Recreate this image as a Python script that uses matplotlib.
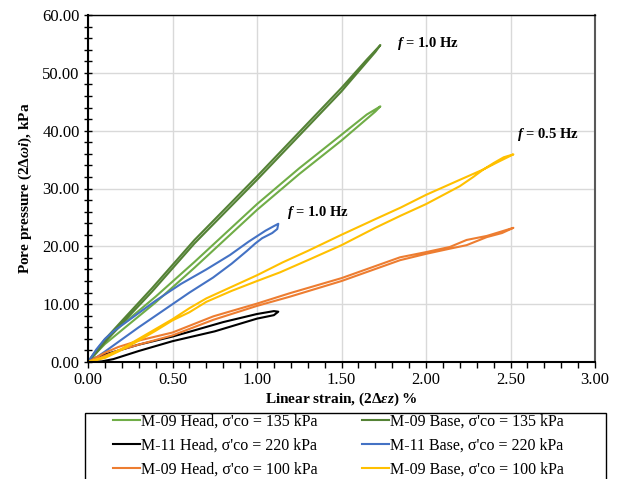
import matplotlib
matplotlib.use("Agg")
import matplotlib.pyplot as plt
from matplotlib.patches import Rectangle
from matplotlib.ticker import MultipleLocator, FormatStrFormatter

plt.rcParams['font.family'] = ['Liberation Serif', 'DejaVu Serif']
plt.rcParams['mathtext.fontset'] = 'custom'
plt.rcParams['mathtext.rm'] = 'Liberation Serif:bold'
plt.rcParams['mathtext.it'] = 'Liberation Serif:italic:bold'
plt.rcParams['mathtext.bf'] = 'Liberation Serif:bold'

# ---- data: each loop listed going up, then coming back down ----
m09_head_135_x = [0, 0.05, 0.1, 0.2, 0.4, 0.63, 1.0, 1.25, 1.5, 1.65, 1.73,
                  1.7, 1.5, 1.25, 1.0, 0.63, 0.4, 0.2, 0.1, 0.05, 0]
m09_head_135_y = [0, 2.0, 3.8, 6.4, 11.3, 17.3, 27.3, 33.5, 39.3, 42.8, 44.2,
                  43.3, 38.3, 32.5, 26.3, 16.3, 10.3, 5.5, 3.1, 1.6, 0]

m09_base_135_x = [0, 0.05, 0.1, 0.2, 0.38, 0.63, 1.0, 1.5, 1.65, 1.73,
                  1.7, 1.5, 1.0, 0.63, 0.38, 0.2, 0.1, 0.05, 0]
m09_base_135_y = [0, 2.0, 3.9, 7.1, 12.8, 21.1, 32.1, 47.4, 52.3, 54.8,
                  53.6, 46.8, 31.5, 20.5, 12.2, 6.6, 3.4, 1.6, 0]

m11_head_220_x = [0, 0.05, 0.1, 0.3, 0.5, 0.633, 0.8, 1.0, 1.1, 1.126,
                  1.1, 1.0, 0.75, 0.5, 0.3, 0.15, 0.08, 0]
m11_head_220_y = [0, 0.8, 1.3, 3.0, 4.4, 5.5, 6.9, 8.3, 8.8, 8.7,
                  8.1, 7.5, 5.3, 3.6, 1.9, 0.5, 0.1, 0]

m11_base_220_x = [0, 0.05, 0.1, 0.15, 0.25, 0.4, 0.55, 0.7, 0.84, 0.95, 1.05, 1.1, 1.126,
                  1.12, 1.09, 1.03, 0.99, 0.94, 0.85, 0.74, 0.6, 0.5, 0.4, 0.3, 0.2, 0.1, 0.05, 0]
m11_base_220_y = [0, 2.2, 4.0, 5.3, 7.4, 10.6, 13.5, 16.0, 18.5, 20.8, 22.7, 23.5, 23.9,
                  23.0, 22.3, 21.4, 20.5, 19.2, 17.0, 14.6, 12.0, 10.0, 8.0, 6.0, 3.9, 1.8, 0.8, 0]

m09_head_100_x = [0, 0.05, 0.1, 0.18, 0.3, 0.5, 0.742, 1.0, 1.195, 1.5, 1.846, 2.0, 2.142, 2.24, 2.36, 2.45, 2.517,
                  2.45, 2.36, 2.24, 2.142, 2.0, 1.846, 1.5, 1.195, 1.0, 0.742, 0.5, 0.3, 0.18, 0.1, 0.05, 0]
m09_head_100_y = [0, 0.8, 1.6, 2.6, 3.7, 5.1, 7.9, 10.1, 11.9, 14.5, 18.1, 19.0, 19.9, 21.1, 21.8, 22.6, 23.2,
                  22.3, 21.6, 20.2, 19.6, 18.7, 17.6, 14.0, 11.3, 9.7, 7.3, 4.6, 3.0, 2.0, 1.1, 0.4, 0]

m09_base_100_x = [0, 0.1, 0.2, 0.3, 0.4, 0.5, 0.6, 0.7, 0.85, 1.0, 1.15, 1.3, 1.5, 1.7, 1.85, 2.0, 2.2, 2.34, 2.42, 2.517,
                  2.46, 2.4, 2.34, 2.28, 2.2, 2.0, 1.85, 1.7, 1.5, 1.3, 1.136, 1.0, 0.85, 0.7, 0.6, 0.5, 0.4, 0.3, 0.2, 0.1, 0]
m09_base_100_y = [0, 0.9, 2.3, 4.0, 5.7, 7.4, 9.3, 11.0, 13.0, 15.0, 17.2, 19.2, 22.0, 24.7, 26.7, 28.9, 31.5, 33.3, 34.5, 35.9,
                  35.4, 34.4, 33.3, 32.0, 30.4, 27.3, 25.3, 23.2, 20.2, 17.6, 15.5, 14.0, 12.3, 10.4, 8.6, 7.2, 5.4, 3.7, 2.1, 0.7, 0]

labels = ["M-09 Head, σ'co = 135 kPa", "M-09 Base, σ'co = 135 kPa",
          "M-11 Head, σ'co = 220 kPa", "M-11 Base, σ'co = 220 kPa",
          "M-09 Head, σ'co = 100 kPa", "M-09 Base, σ'co = 100 kPa"]
colors = ["#70ad47", "#548235", "#000000", "#4472c4", "#ed7d31", "#ffc000"]

notes = ["$f$ = 1.0 Hz", "$f$ = 0.5 Hz", "$f$ = 1.0 Hz"]
note_x = [1.83, 2.54, 1.18]
note_y = [55.0, 39.3, 25.8]

series = [(m09_head_135_x, m09_head_135_y), (m09_base_135_x, m09_base_135_y),
          (m11_head_220_x, m11_head_220_y), (m11_base_220_x, m11_base_220_y),
          (m09_head_100_x, m09_head_100_y), (m09_base_100_x, m09_base_100_y)]

fig = plt.figure(figsize=(6.18, 4.79), dpi=100)
ax = fig.add_axes([88 / 618, 117 / 479, 507 / 618, 347 / 479])

handles = []
for (xs, ys), lab, c in zip(series, labels, colors):
    h, = ax.plot(xs, ys, color=c, lw=1.5, label=lab, solid_joinstyle='round')
    handles.append(h)

ax.set_xlim(0, 3)
ax.set_ylim(0, 60)
ax.xaxis.set_major_locator(MultipleLocator(0.5))
ax.xaxis.set_minor_locator(MultipleLocator(0.1))
ax.yaxis.set_major_locator(MultipleLocator(10))
ax.yaxis.set_minor_locator(MultipleLocator(2))
ax.xaxis.set_major_formatter(FormatStrFormatter('%.2f'))
ax.yaxis.set_major_formatter(FormatStrFormatter('%.2f'))
ax.grid(True, which='major', color='#d9d9d9', lw=1)
ax.set_axisbelow(True)

ax.tick_params(axis='x', which='both', direction='out', length=4, width=1, labelsize=12, pad=3)
ax.tick_params(axis='y', which='both', direction='inout', length=6, width=1, labelsize=12, pad=3)

for s in ['left', 'bottom']:
    ax.spines[s].set_linewidth(1.5)
    ax.spines[s].set_color('black')
ax.spines['top'].set_linewidth(1.0)
ax.spines['right'].set_linewidth(1.5)
ax.spines['right'].set_color('#595959')

ax.set_xlabel("Linear strain, (2Δ$\\mathit{εz}$) %", fontsize=11, fontweight='bold', labelpad=2)
ax.set_ylabel("Pore pressure (2Δ$\\mathit{ωi}$), kPa", fontsize=11, fontweight='bold', labelpad=6)

for t, x, y in zip(notes, note_x, note_y):
    ax.text(x, y, t, fontsize=10.5, fontweight='bold', ha='left', va='center')

# legend box drawn by hand, it runs off the bottom edge like the original
fig.patches.append(Rectangle((85 / 618, -0.05), 521 / 618, 0.05 + 66 / 479,
                             transform=fig.transFigure, fill=False,
                             edgecolor='black', lw=1.0))

# legend fills column-wise, so reorder to get rows: head/base pairs
order = [0, 2, 4, 1, 3, 5]
leg = fig.legend([handles[i] for i in order], [labels[i] for i in order],
                 ncol=2, loc='upper left', bbox_to_anchor=(113 / 618, 1 - 414 / 479),
                 fontsize=11.5, frameon=False,
                 handlelength=1.7, handletextpad=0.05, columnspacing=2.8,
                 labelspacing=0.5, borderpad=0.0, borderaxespad=0)

fig.savefig("out.png", dpi=100)
